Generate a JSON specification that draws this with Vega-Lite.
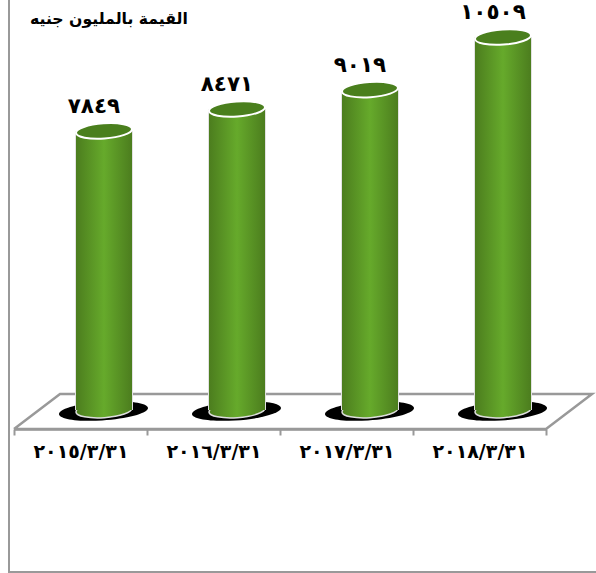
{"$schema":"https://vega.github.io/schema/vega-lite/v6.json","width":587,"height":573,"autosize":"none","padding":{"left":9,"top":0,"right":0,"bottom":0},"background":"white","config":{"view":{"stroke":null},"axis":{"grid":false}},"title":{"text":"القيمة بالمليون جنيه","anchor":"start","frame":"group","offset":0,"dx":21,"dy":29,"font":"DejaVu Sans","fontSize":15.7,"fontWeight":"bold","color":"#000"},"data":{"values":[{"date":"٢٠١٥/٣/٣١","value":7849,"label":"٧٨٤٩"},{"date":"٢٠١٦/٣/٣١","value":8471,"label":"٨٤٧١"},{"date":"٢٠١٧/٣/٣١","value":9019,"label":"٩٠١٩"},{"date":"٢٠١٨/٣/٣١","value":10509,"label":"١٠٥٠٩"}]},"resolve":{"scale":{"x":"independent"},"axis":{"x":"independent"}},"layer":[{"data":{"values":[{"slot":0,"floor":-595,"order":1},{"slot":4,"floor":-595,"order":2},{"slot":4.346,"floor":397,"order":3},{"slot":0.346,"floor":397,"order":4},{"slot":0,"floor":-595,"order":5}]},"mark":{"type":"line","color":"#999999","strokeWidth":2.5,"strokeJoin":"miter"},"encoding":{"x":{"field":"slot","type":"quantitative","axis":null,"scale":{"domain":[0,4],"range":[5,537],"zero":false,"nice":false}},"y":{"field":"floor","type":"quantitative","axis":null,"scale":{"domain":[-4674,11558],"nice":false,"zero":false}},"order":{"field":"order"}}},{"encoding":{"x":{"field":"date","type":"ordinal","sort":null,"title":null,"scale":{"range":[5,537],"paddingInner":0,"paddingOuter":0},"axis":{"offset":-144,"tickBand":"extent","domainColor":"#999999","domainWidth":2.5,"tickColor":"#999999","tickWidth":2,"tickSize":6,"labelAngle":0,"labelFont":"DejaVu Sans","labelFontWeight":"bold","labelFontSize":19,"labelColor":"#000","labelPadding":7,"labelBaseline":"top"}}},"layer":[{"mark":{"type":"rule","color":"#999999","strokeWidth":2},"encoding":{"x":{"value":0},"x2":{"value":587},"y":{"datum":-4646,"type":"quantitative","axis":null,"scale":{"domain":[-4674,11558],"nice":false,"zero":false}}}},{"mark":{"type":"rule","color":"#999999","strokeWidth":2},"encoding":{"x":{"value":0},"y":{"value":0},"y2":{"value":573}}},{"mark":{"type":"point","filled":true,"opacity":1,"color":"#000","xOffset":23,"shape":"M-1,0.06A1,0.21,-4,1,1,1,-0.06A1,0.21,-4,1,1,-1,0.06Z","size":7921},"encoding":{"y":{"datum":-85,"type":"quantitative","axis":null,"scale":{"domain":[-4674,11558],"nice":false,"zero":false}}}},{"mark":{"type":"bar","width":58,"xOffset":23.5,"color":"#e2e2e2"},"encoding":{"y":{"field":"value","type":"quantitative","axis":null,"scale":{"domain":[-4674,11558],"nice":false,"zero":false}},"y2":{"datum":-60}}},{"mark":{"type":"point","filled":true,"opacity":1,"xOffset":23.5,"shape":"M-1,0.07A1,0.27,-4,1,1,1,-0.07A1,0.27,-4,1,1,-1,0.07Z","size":3136,"stroke":"#dddddd","strokeWidth":1.5,"fill":{"x1":0,"x2":1,"y1":0,"y2":0,"gradient":"linear","stops":[{"offset":0,"color":"#4c7d1e"},{"offset":0.5,"color":"#66aa2b"},{"offset":1,"color":"#4c7d1e"}]}},"encoding":{"y":{"datum":-60,"type":"quantitative","axis":null,"scale":{"domain":[-4674,11558],"nice":false,"zero":false}}}},{"mark":{"type":"bar","width":56,"xOffset":23.5,"color":{"x1":0,"x2":1,"y1":0,"y2":0,"gradient":"linear","stops":[{"offset":0,"color":"#4c7d1e"},{"offset":0.5,"color":"#66aa2b"},{"offset":1,"color":"#4c7d1e"}]}},"encoding":{"y":{"field":"value","type":"quantitative","axis":null,"scale":{"domain":[-4674,11558],"nice":false,"zero":false}},"y2":{"datum":-60}}},{"mark":{"type":"point","filled":true,"opacity":1,"xOffset":23.5,"shape":"M-1,0.07A1,0.27,-4,1,1,1,-0.07A1,0.27,-4,1,1,-1,0.07Z","size":3136,"fill":"#4a7f1d","stroke":"#ffffff","strokeWidth":2},"encoding":{"y":{"field":"value","type":"quantitative","axis":null,"scale":{"domain":[-4674,11558],"nice":false,"zero":false}}}},{"mark":{"type":"text","xOffset":13.5,"dy":-24,"font":"DejaVu Sans","fontWeight":"bold","fontSize":21.5,"color":"#000"},"encoding":{"y":{"field":"value","type":"quantitative","axis":null,"scale":{"domain":[-4674,11558],"nice":false,"zero":false}},"text":{"field":"label"}}}]}]}
